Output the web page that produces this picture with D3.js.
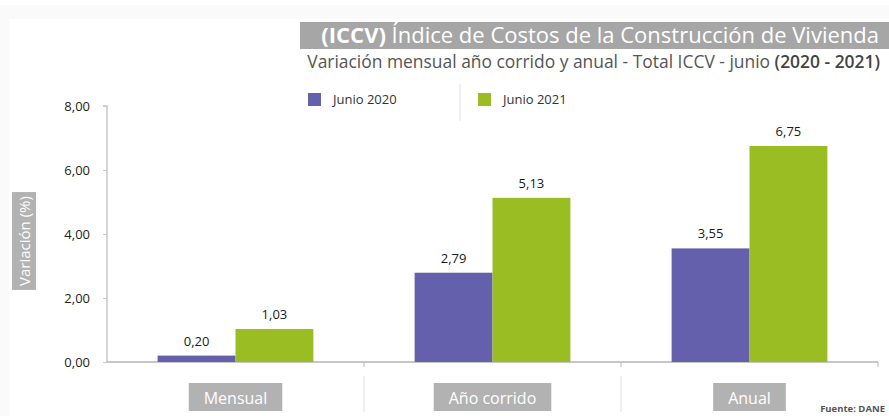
<!DOCTYPE html>
<html>
<head>
<meta charset="utf-8">
<script src="https://cdn.jsdelivr.net/npm/d3@7"></script>
<style>
  html, body { margin: 0; padding: 0; background: #fff; }
  svg { display: block; font-family: "Open Sans", "Noto Sans", sans-serif; }
</style>
</head>
<body>
<svg id="chart" width="889" height="416"></svg>
<script>
// Categories, series and axis ticks
const categories = ["Mensual", "Año corrido", "Anual"];
const seriesNames = ["Junio 2020", "Junio 2021"];
const junio2020 = [0.20, 2.79, 3.55];
const junio2021 = [1.03, 5.13, 6.75];
const yTicks = [0, 2, 4, 6, 8];
const titleBold = "(ICCV)";
const titleRest = " Índice de Costos de la Construcción de Vivienda";
const subtitleMain = "Variación mensual año corrido y anual - Total ICCV - junio ";
const subtitleBold = "(2020 - 2021)";
const yLabel = "Variación (%)";
const source = "Fuente: DANE";

const colors = ["#6460ac", "#99bd22"];
const fmt = v => d3.format(".2f")(v).replace(".", ",");

const svg = d3.select("#chart");
const W = 889, H = 416;

// faint frame at the top and left edge
svg.append("rect").attr("x", 0).attr("y", 5).attr("width", W).attr("height", 14).attr("fill", "#fafafa");
svg.append("rect").attr("x", 0).attr("y", 5).attr("width", 9).attr("height", H).attr("fill", "#fafafa");

const margin = { left: 107, right: 11, top: 106, bottom: 54 };
const x0 = d3.scaleBand().domain(categories).range([margin.left, W - margin.right]).paddingInner(0).paddingOuter(0);
// the two bars of a group sit side by side, centred in the band
const x1 = d3.scaleBand().domain(seriesNames).range([0, x0.bandwidth()]).paddingOuter(0.65).paddingInner(0);
const y = d3.scaleLinear().domain([0, 8]).range([H - margin.bottom, margin.top]);

// fit a text element to a target width by adjusting font size
function fitWidth(sel, target) {
  const node = sel.node();
  const w = node.getComputedTextLength();
  const fs = parseFloat(sel.attr("font-size"));
  sel.attr("font-size", (fs * target / w).toFixed(2));
}

// Title banner
svg.append("rect").attr("x", 300).attr("y", 22).attr("width", W - 300).attr("height", 27).attr("fill", "#a6a6a6");
const title = svg.append("text").attr("x", 879).attr("y", 43).attr("text-anchor", "end")
  .attr("font-size", 20).attr("fill", "#fff");
title.append("tspan").attr("font-weight", 700).text(titleBold);
title.append("tspan").text(titleRest);
fitWidth(title, 558);

const sub = svg.append("text").attr("x", 880).attr("y", 68).attr("text-anchor", "end")
  .attr("font-size", 15).attr("fill", "#555");
sub.append("tspan").text(subtitleMain);
sub.append("tspan").attr("font-weight", 600).attr("fill", "#444").text(subtitleBold);
fitWidth(sub, 573);

// Y axis
const yAxis = d3.axisLeft(y).tickValues(yTicks).tickFormat(fmt).tickSize(4).tickPadding(13);
const gy = svg.append("g").attr("transform", `translate(${margin.left},0)`).call(yAxis);
gy.select(".domain").attr("stroke", "#c8c8c8").attr("stroke-width", 1.5).attr("d", `M-4,${y(8)}H0V${y(0)}`);
gy.selectAll(".tick line").attr("stroke", "#c8c8c8");
gy.selectAll(".tick text").attr("font-size", 13).attr("fill", "#222").attr("font-family", "Open Sans, sans-serif");

// X baseline with separators
const gx = svg.append("g").attr("transform", `translate(0,${y(0)})`)
  .call(d3.axisBottom(x0).tickSize(0).tickFormat(""));
gx.select(".domain").attr("stroke", "#b4b4b4").attr("stroke-width", 1.5).attr("d", `M${margin.left},0H${W - margin.right}`);
const edges = categories.map(c => x0(c) + x0.bandwidth());
svg.append("g").selectAll("line.tk").data(edges).join("line")
  .attr("x1", d => d).attr("x2", d => d).attr("y1", y(0)).attr("y2", y(0) + 5)
  .attr("stroke", "#b4b4b4");
svg.append("g").selectAll("line.sep").data(edges.slice(0, -1)).join("line")
  .attr("x1", d => d).attr("x2", d => d).attr("y1", y(0) + 14).attr("y2", H - 4)
  .attr("stroke", "#e0e0e0");

// Category label boxes
const catG = svg.append("g").selectAll("g").data(categories).join("g")
  .attr("transform", d => `translate(${x0(d) + x0.bandwidth() / 2},0)`);
catG.each(function (d) {
  const g = d3.select(this);
  const t = g.append("text").attr("x", 0).attr("y", 404).attr("text-anchor", "middle")
    .attr("font-size", 16).attr("fill", "#fff").text(d);
  const w = t.node().getComputedTextLength();
  g.insert("rect", "text").attr("x", -w / 2 - 15).attr("y", 383).attr("width", w + 30).attr("height", 28)
    .attr("fill", "#b2b2b2");
});

// Bars
const data = categories.map((c, i) => ({ c, vals: [junio2020[i], junio2021[i]] }));
const groups = svg.append("g").selectAll("g").data(data).join("g")
  .attr("transform", d => `translate(${x0(d.c)},0)`);
groups.selectAll("rect").data(d => d.vals.map((v, k) => ({ v, k }))).join("rect")
  .attr("x", d => x1(seriesNames[d.k]))
  .attr("y", d => y(d.v))
  .attr("width", x1.bandwidth())
  .attr("height", d => y(0) - y(d.v))
  .attr("fill", d => colors[d.k]);
groups.selectAll("text").data(d => d.vals.map((v, k) => ({ v, k }))).join("text")
  .attr("x", d => x1(seriesNames[d.k]) + x1.bandwidth() / 2)
  .attr("y", d => y(d.v) - 10)
  .attr("text-anchor", "middle").attr("font-size", 13).attr("fill", "#1a1a1a")
  .text(d => fmt(d.v));

// Legend
const legendX = [308, 478];
const lg = svg.append("g").selectAll("g").data(seriesNames).join("g")
  .attr("transform", (d, i) => `translate(${legendX[i]},93)`);
lg.append("rect").attr("width", 13).attr("height", 13).attr("fill", (d, i) => colors[i]);
lg.append("text").attr("x", 25).attr("y", 11).attr("font-size", 13).attr("fill", "#333").text(d => d);
svg.append("line").attr("x1", 460).attr("x2", 460).attr("y1", 84).attr("y2", 121).attr("stroke", "#e0e0e0");

// Y axis title box
const yl = svg.append("g").attr("transform", "translate(24,241) rotate(-90)");
const ylt = yl.append("text").attr("text-anchor", "middle").attr("y", 5.5)
  .attr("font-size", 15).attr("fill", "#fff").text(yLabel);
const ylw = ylt.node().getComputedTextLength();
yl.insert("rect", "text").attr("x", -ylw / 2 - 4).attr("y", -12).attr("width", ylw + 8).attr("height", 24)
  .attr("fill", "#b2b2b2");

// Source note
svg.append("text").attr("x", 885).attr("y", 412).attr("text-anchor", "end")
  .attr("font-size", 9.5).attr("font-weight", 700).attr("fill", "#555").text(source);
</script>
</body>
</html>
